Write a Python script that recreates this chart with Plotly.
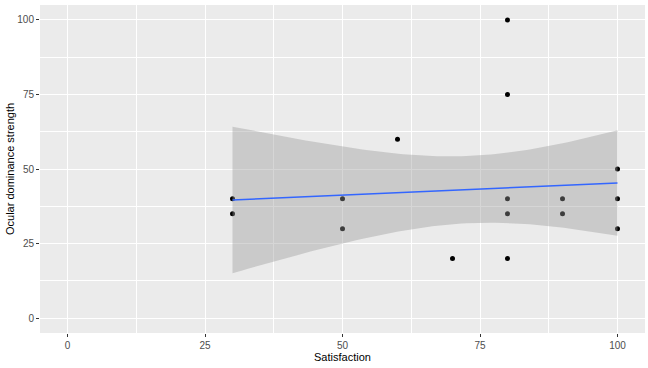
import numpy as np
import plotly.graph_objects as go

# Data
satisfaction = [30, 30, 50, 50, 60, 70, 80, 80, 80, 80, 80, 90, 90, 100, 100, 100]
ocular_dominance = [40, 35, 40, 30, 60, 20, 100, 75, 40, 35, 20, 40, 35, 50, 40, 30]
x_ticks = [0, 25, 50, 75, 100]
y_ticks = [0, 25, 50, 75, 100]
minor_ticks = [12.5, 37.5, 62.5, 87.5]
x_title = "Satisfaction"
y_title = "Ocular dominance strength"

# Linear fit with 95% confidence band (as geom_smooth(method="lm"))
x = np.array(satisfaction, dtype=float)
y = np.array(ocular_dominance, dtype=float)
n = len(x)
mx, my = x.mean(), y.mean()
sxx = ((x - mx) ** 2).sum()
slope = ((x - mx) * (y - my)).sum() / sxx
intercept = my - slope * mx
resid = y - (intercept + slope * x)
s = np.sqrt((resid ** 2).sum() / (n - 2))
t_crit = 2.144787  # t(0.975, df=14)
xg = np.linspace(x.min(), x.max(), 80)
fit = intercept + slope * xg
se = s * np.sqrt(1 / n + (xg - mx) ** 2 / sxx)
lo, hi = fit - t_crit * se, fit + t_crit * se

fig = go.Figure()
fig.add_trace(go.Scatter(x=satisfaction, y=ocular_dominance, mode="markers",
                         marker=dict(color="black", size=5), hoverinfo="skip"))
fig.add_trace(go.Scatter(x=np.concatenate([xg, xg[::-1]]), y=np.concatenate([hi, lo[::-1]]),
                         fill="toself", fillcolor="rgba(153,153,153,0.4)",
                         line=dict(width=0), mode="lines", hoverinfo="skip"))
fig.add_trace(go.Scatter(x=xg, y=fit, mode="lines", line=dict(color="#3366FF", width=1.5),
                         hoverinfo="skip"))


def axis(ticks):
    return dict(
        range=[-5, 105], tickvals=ticks, automargin=False,
        showgrid=True, gridcolor="white", gridwidth=1.1, zeroline=False,
        ticks="outside", ticklen=3, tickcolor="#333333", tickwidth=1,
        tickfont=dict(family="Liberation Sans, Arial", size=10, color="#4D4D4D"),
        showline=False,
        minor=dict(showgrid=True, gridcolor="white", gridwidth=0.5, tickvals=minor_ticks),
    )


fig.update_layout(
    width=648, height=368,
    margin=dict(l=40, r=3, t=5, b=35, pad=0),
    paper_bgcolor="white", plot_bgcolor="#EBEBEB",
    showlegend=False,
    font=dict(family="Liberation Sans, Arial"),
    xaxis=axis(x_ticks),
    yaxis=axis(y_ticks),
    annotations=[
        dict(text=x_title, xref="paper", yref="paper", x=0.5, y=0, yshift=-24,
             xanchor="center", yanchor="middle", showarrow=False,
             font=dict(size=11, color="black")),
        dict(text=y_title, xref="paper", yref="paper", x=0, y=0.5, xshift=-30,
             xanchor="center", yanchor="middle", textangle=-90, showarrow=False,
             font=dict(size=11, color="black")),
    ],
)
fig.write_html("out.html", config={"displayModeBar": False},
               post_script="document.body.style.margin='0';document.body.style.overflow='hidden';")
